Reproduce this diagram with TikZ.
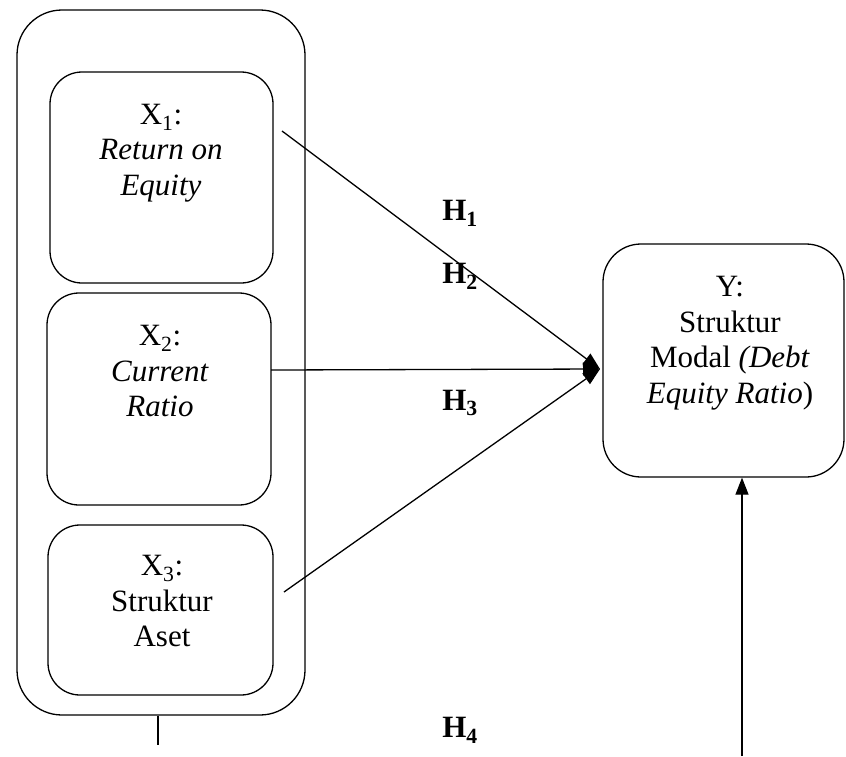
\documentclass[tikz,border=0pt]{standalone}
\usepackage{fontspec}
\setmainfont{Liberation Serif}
\usetikzlibrary{arrows.meta,positioning}
\tikzset{
  frame/.style={draw, line width=1.3pt, rounded corners=#1, inner sep=0pt},
  lbl/.style={inner sep=0pt, align=center, font=\fontsize{31}{35.5}\selectfont},
  hyp/.style={inner sep=0pt, font=\fontsize{31}{35}\selectfont\bfseries},
  conn/.style={line width=1.3pt, -{Triangle[length=17pt,width=13pt]}},
  plain/.style={line width=1.3pt}
}
\begin{document}
\begin{tikzpicture}[x=1pt,y=-1pt]
\useasboundingbox (0,0) rectangle (846,756);
% outer group box
\node[frame=45pt, minimum width=288pt, minimum height=705pt] (grp) at (161,362.5) {};
% inner boxes
\node[frame=32pt, minimum width=223pt, minimum height=211pt] (x1) at (161.5,177.5) {};
\node[frame=32pt, minimum width=224pt, minimum height=212pt] (x2) at (159,399) {};
\node[frame=32pt, minimum width=225pt, minimum height=170pt] (x3) at (160.5,610) {};
\node[frame=38pt, minimum width=241pt, minimum height=233pt] (y) at (723.5,360.5) {};
% texts
\node[lbl] (t1) at (161,153) {X\textsubscript{1}:\\\textit{Return on}\\\textit{Equity}};
\node[lbl] (t2) at (160,371) {X\textsubscript{2}:\\\textit{Current}\\\textit{Ratio}};
\node[lbl] (t3) at (162,601) {X\textsubscript{3}:\\Struktur\\Aset};
\node[lbl] (ty) at (730,343) {Y:\\Struktur\\Modal \textit{(Debt}\\\textit{Equity Ratio})};
% hypothesis labels
\node[hyp] (h1) at (460,213) {H\textsubscript{1}};
\node[hyp] (h2) at (460,276) {H\textsubscript{2}};
\node[hyp] (h3) at (460,403) {H\textsubscript{3}};
\node[hyp] (h4) at (460,730) {H\textsubscript{4}};
% connector endpoints
\coordinate (s1) at (282,131);
\coordinate (s2) at (271,370);
\coordinate (s3) at (284,592);
\coordinate (yin) at (600,369);
\coordinate (gb) at (158,745);
\coordinate (ybot) at (742,756);
% connectors
\draw[conn] (s1) -- (yin);
\draw[conn] (s2) -- (yin);
\draw[conn] (s3) -- (yin);
\draw[plain] (grp.south -| gb) -- (gb);
\draw[conn] (ybot) -- (ybot |- y.south);
\end{tikzpicture}
\end{document}
